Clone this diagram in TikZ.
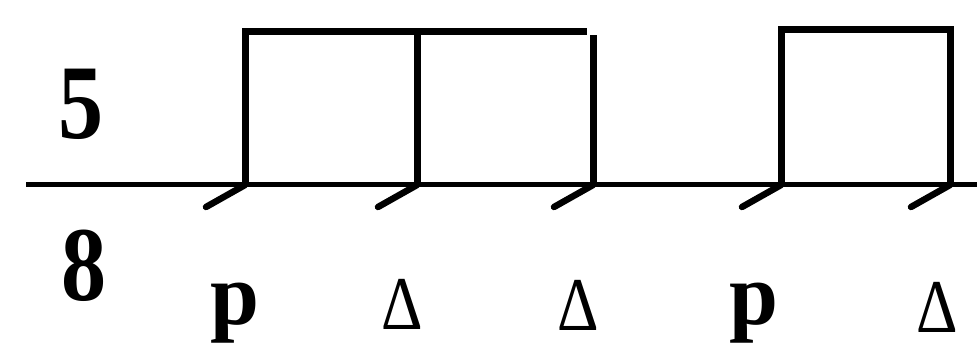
\documentclass[tikz,border=0pt]{standalone}
\usepackage{fontspec}
\setmainfont{Liberation Serif}
\begin{document}
\begin{tikzpicture}[x=1pt,y=-1pt,
  frame/.style={line width=7pt, line cap=butt, line join=miter},
  baseline/.style={line width=5pt},
  tickmark/.style={line width=6.5pt, line cap=round},
  numlab/.style={inner sep=0pt, font=\fontsize{106}{106}\selectfont\bfseries, xscale=0.85},
  plab/.style={inner sep=0pt, font=\fontsize{88}{88}\selectfont\bfseries},
  dlab/.style={inner sep=0pt, font=\fontsize{76}{76}\selectfont, xscale=0.85}]
\useasboundingbox (0,0) rectangle (977,347);
% coordinates
\coordinate (L) at (26,185);
\coordinate (R) at (977,185);
\coordinate (b1) at (245,185); \coordinate (t1) at (245,32);
\coordinate (b2) at (417,185); \coordinate (t2) at (417,32);
\coordinate (b3) at (593,185); \coordinate (t3) at (593,35);
\coordinate (e1) at (587,32);
\coordinate (b4) at (781,185); \coordinate (t4) at (781,30);
\coordinate (b5) at (950,185); \coordinate (t5) at (950,30);
% base line
\draw[baseline] (L) -- (R);
% boxes
\draw[frame] (b1) -- (t1) -- (e1);
\draw[frame] (b2) -- (t2);
\draw[frame] (b3) -- (t3);
\draw[frame] (b4) -- (t4) -- (t5) -- (b5);
% ticks
\foreach \i in {1,...,5} {
  \draw[tickmark] (b\i) -- ++(-39,22);
}
% labels
\node[numlab] (n5) at (81,104) {5};
\node[numlab] (n8) at (84,266) {8};
\node[plab] (l1) at (235,313) {p};
\node[dlab] (l2) at (402,304) {Δ};
\node[dlab] (l3) at (578,305) {Δ};
\node[plab] (l4) at (754,313) {p};
\node[dlab] (l5) at (937,307) {Δ};
\end{tikzpicture}
\end{document}
